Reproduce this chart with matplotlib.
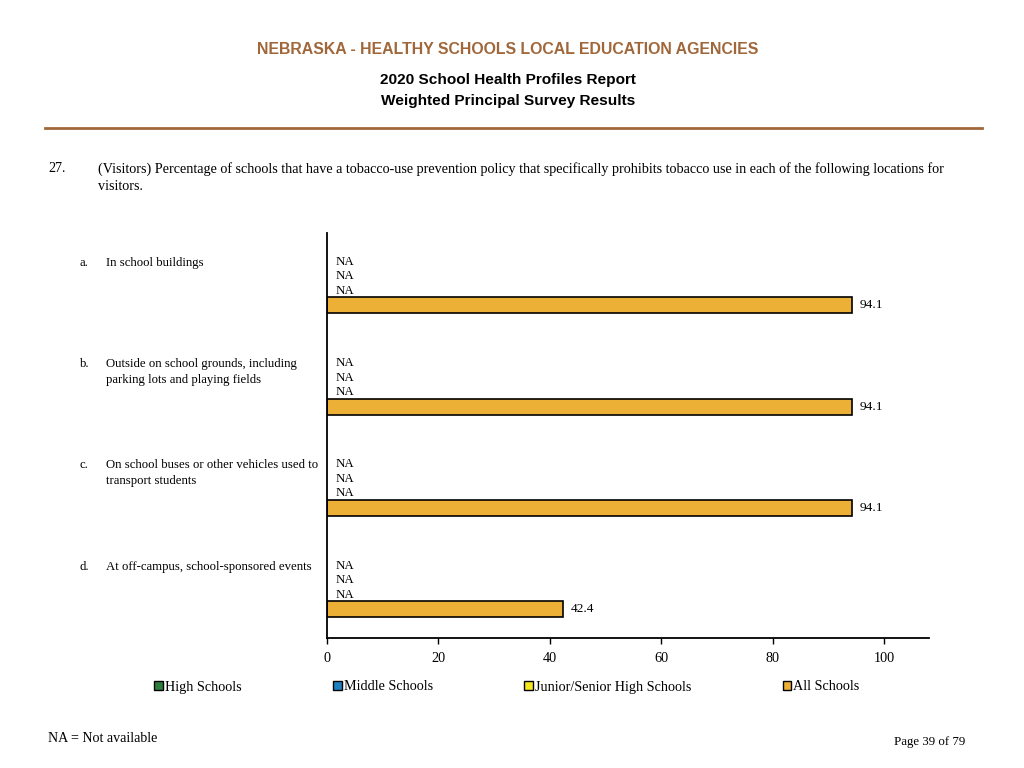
import numpy as np
import matplotlib
matplotlib.use("Agg")
import matplotlib.pyplot as plt
import matplotlib.transforms as mtransforms
from matplotlib.patches import Patch

plt.rcParams['font.family'] = ['Liberation Serif', 'DejaVu Serif']

letters = ["a.", "b.", "c.", "d."]
categories = [
    "In school buildings",
    "Outside on school grounds, including\nparking lots and playing fields",
    "On school buses or other vehicles used to\ntransport students",
    "At off-campus, school-sponsored events",
]
series = ["High Schools", "Middle Schools", "Junior/Senior High Schools", "All Schools"]
high_schools = [np.nan, np.nan, np.nan, np.nan]
middle_schools = [np.nan, np.nan, np.nan, np.nan]
junior_senior = [np.nan, np.nan, np.nan, np.nan]
all_schools = [94.1, 94.1, 94.1, 42.4]
colors = ["#2e7d3c", "#1f80c0", "#f5e61e", "#ebb035"]

values = [high_schools, middle_schools, junior_senior, all_schools]

brown = "#a0673a"
fig = plt.figure(figsize=(10.24, 7.68), dpi=100)

# header
fig.text(0.496, 1 - 50 / 768, "NEBRASKA - HEALTHY SCHOOLS LOCAL EDUCATION AGENCIES",
         ha='center', va='center', fontsize=11.4, fontweight='bold', color=brown,
         family='Liberation Sans')
fig.text(0.496, 1 - 80 / 768, "2020 School Health Profiles Report", ha='center', va='center',
         fontsize=11.1, fontweight='bold', family='Liberation Sans')
fig.text(0.496, 1 - 101 / 768, "Weighted Principal Survey Results", ha='center', va='center',
         fontsize=11.1, fontweight='bold', family='Liberation Sans')
fig.add_artist(plt.Line2D([45 / 1024, 982 / 1024], [1 - 128 / 768, 1 - 128 / 768],
                          color=brown, lw=2))

# question
fig.text(48 / 1024, 1 - 169 / 768, "27.", va='center', fontsize=10.2)
fig.text(98 / 1024, 1 - 169 / 768,
         "(Visitors) Percentage of schools that have a tobacco-use prevention policy that specifically prohibits tobacco use in each of the following locations for",
         va='center', fontsize=10.2)
fig.text(98 / 1024, 1 - 187 / 768, "visitors.", va='center', fontsize=10.2)

ax = fig.add_axes([327 / 1024, 1 - 638 / 768, (929 - 327) / 1024, (638 - 233) / 768])

group_gap = 7
for j, (name, vals) in enumerate(zip(series, values)):
    ys = [i * group_gap + j for i in range(len(categories))]
    ax.barh(ys, vals, height=1.1, color=colors[j], edgecolor='black', linewidth=1.2)
    for y, v in zip(ys, vals):
        if np.isnan(v):
            ax.text(1.6, y, "NA", va='center', ha='left', fontsize=9.3)
        else:
            ax.text(v + 1.4, y, f"{v:.1f}", va='center', ha='left', fontsize=9.6)

trans = mtransforms.blended_transform_factory(fig.transFigure, ax.transData)
for i, (let, cat) in enumerate(zip(letters, categories)):
    y = i * group_gap - 0.35
    ax.text(80 / 1024, y, let, transform=trans, va='top', ha='left', fontsize=9.2)
    ax.text(106 / 1024, y, cat, transform=trans, va='top', ha='left', fontsize=9.2,
            linespacing=1.45)

ax.set_xlim(0, 108)
ax.set_ylim(3 * group_gap + 3 + 2, -2)
ax.set_xticks([0, 20, 40, 60, 80, 100])
ax.tick_params(axis='x', labelsize=10.3, length=4, width=1, pad=6)
ax.set_yticks([])
for s in ['top', 'right']:
    ax.spines[s].set_visible(False)
ax.spines['left'].set_linewidth(1.3)
ax.spines['bottom'].set_linewidth(1.3)

handles = [Patch(facecolor=c, edgecolor='black', linewidth=1) for c in colors]
fig.legend(handles, series, loc='center', bbox_to_anchor=(0.495, 1 - 687 / 768), ncol=4,
           frameon=False, fontsize=10.2, handlelength=0.6, handleheight=0.6,
           handletextpad=0.15, columnspacing=6.45)

# footer
fig.text(48 / 1024, 1 - 739 / 768, "NA = Not available", va='center', fontsize=10.1)
fig.text(965 / 1024, 1 - 742 / 768, "Page 39 of 79", va='center', ha='right', fontsize=9.3)

fig.savefig("out.png", dpi=100)
